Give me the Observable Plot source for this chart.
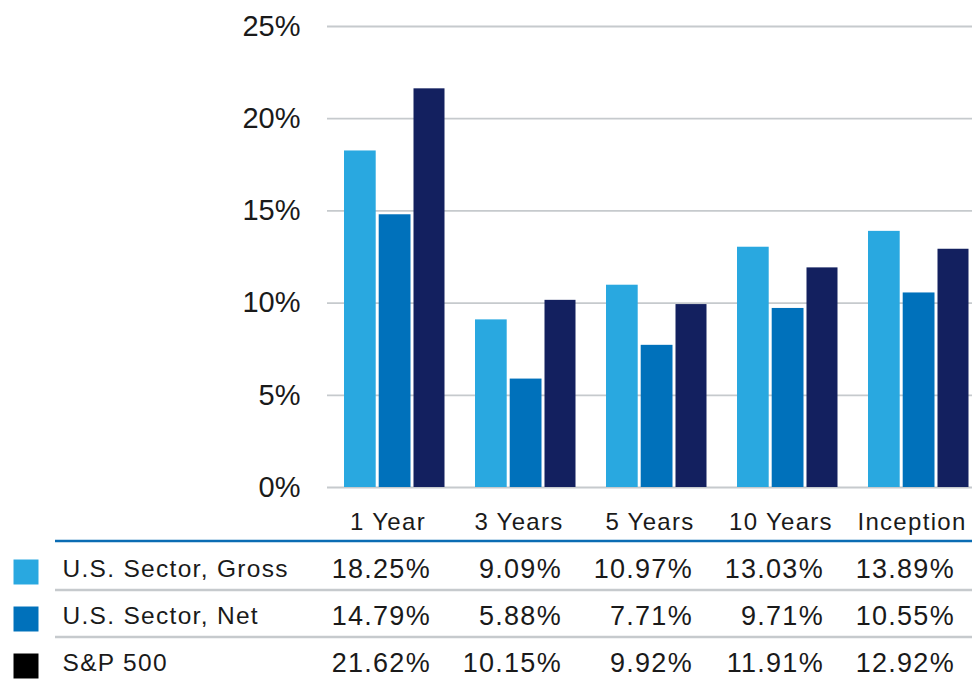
<!DOCTYPE html>
<html>
<head>
<meta charset="utf-8">
<script src="https://cdn.jsdelivr.net/npm/d3@7"></script>
<script src="https://cdn.jsdelivr.net/npm/@observablehq/plot@0.6"></script>
<style>
  body { margin: 0; background: #fff; }
  #chart svg { display: block; }
</style>
</head>
<body>
<div id="chart"></div>
<script>
const periods = ["1 Year", "3 Years", "5 Years", "10 Years", "Inception"];
const seriesNames = ["U.S. Sector, Gross", "U.S. Sector, Net", "S&P 500"];
const gross = [18.25, 9.09, 10.97, 13.03, 13.89];
const net = [14.79, 5.88, 7.71, 9.71, 10.55];
const sp500 = [21.62, 10.15, 9.92, 11.91, 12.92];
const yTicks = [0, 5, 10, 15, 20, 25];
const barColors = ["#29a8e0", "#0071bb", "#13205f"];
const legendColors = ["#29a8e0", "#0071bb", "#000000"];

const seriesValues = [gross, net, sp500];
const insets = [[15, 84.3], [49.7, 49.5], [84.5, 15.5]];
const font = "'Liberation Sans', Arial, Helvetica, sans-serif";
const xRange = [327, 986];

const barMarks = seriesValues.map((vals, s) =>
  Plot.barY(periods.map((p, i) => ({period: p, value: vals[i]})), {
    x: "period", y: "value", fill: barColors[s],
    insetLeft: insets[s][0], insetRight: insets[s][1]
  })
);

const chart = Plot.plot({
  width: 972, height: 504,
  marginLeft: 327, marginRight: 0, marginTop: 26, marginBottom: 17,
  style: {fontFamily: font, fontSize: "29px", color: "#1a1a1a", background: "#fff"},
  x: {type: "band", domain: periods, range: xRange, padding: 0, axis: null},
  y: {domain: [0, 25], ticks: yTicks, tickFormat: d => d + "%", tickSize: 0, tickPadding: 27, label: null},
  marks: [
    Plot.ruleY(yTicks, {stroke: "#c6cacd", strokeWidth: 1.8}),
    ...barMarks
  ]
});

const rows = ["header", ...seriesNames];
const valueMarks = seriesValues.map((vals, s) =>
  Plot.text(periods, {
    x: d => d, y: () => seriesNames[s],
    text: (d, i) => vals[i].toFixed(2) + "%",
    textAnchor: "end", dx: 36, fontSize: 27, fill: "#1a1a1a"
  })
);

const table = Plot.plot({
  width: 972, height: 178,
  marginLeft: 0, marginRight: 0, marginTop: 0, marginBottom: 0,
  style: {fontFamily: font, color: "#1a1a1a", background: "#fff", letterSpacing: "1.3px", overflow: "visible"},
  x: {type: "band", domain: periods, range: xRange, padding: 0, axis: null},
  y: {type: "band", domain: rows, range: [-6, 182], padding: 0, axis: null},
  color: {type: "identity"},
  marks: [
    Plot.ruleY([seriesNames[0]], {y: d => d, stroke: "#0a6cb3", strokeWidth: 2.5, insetLeft: 55, dy: -28}),
    Plot.ruleY([seriesNames[1], seriesNames[2]], {y: d => d, stroke: "#c6cacd", strokeWidth: 2.5, insetLeft: 55, dy: -26}),
    Plot.text(periods, {x: d => d, y: () => "header", dx: -7, fontSize: 24, fill: "#1a1a1a", style: "letter-spacing:1.8px"}),
    ...valueMarks,
    Plot.text(seriesNames, {y: d => d, frameAnchor: "left", dx: 62, textAnchor: "start", fontSize: 24.5, fill: "#1a1a1a"}),
    Plot.dot(seriesNames, {y: d => d, frameAnchor: "left", dx: 25.5, dy: 3, symbol: "square", r: 14.1, fill: (d, i) => legendColors[i], stroke: "none"})
  ]
});

const container = document.getElementById("chart");
container.append(chart, table);
</script>
</body>
</html>
